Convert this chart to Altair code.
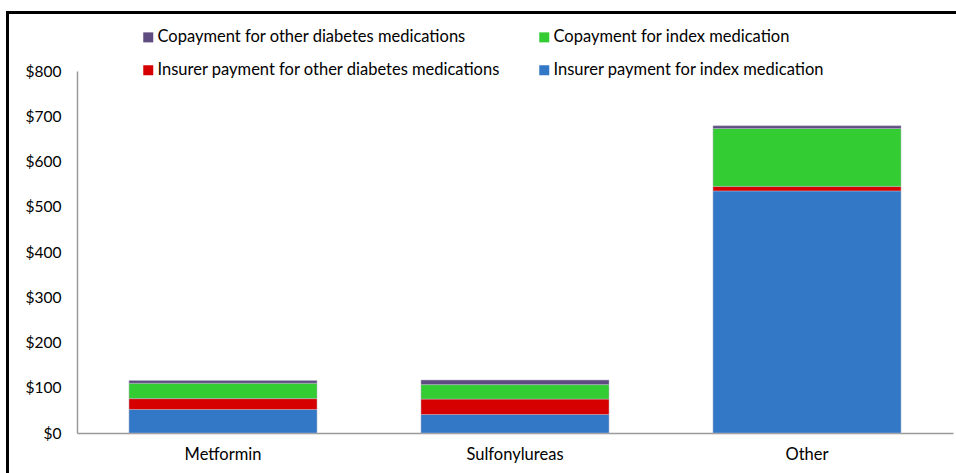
import altair as alt
import pandas as pd

# Average annual pharmacy spending by index medication class
categories = ["Metformin", "Sulfonylureas", "Other"]
insurer_index = [52, 41, 535]
insurer_other = [24, 34, 10]
copay_index = [34, 32, 128]
copay_other = [6, 10, 6]

# legend is laid out column by column: left column first, then right column
series_names = [
    "Copayment for other diabetes medications",
    "Insurer payment for other diabetes medications",
    "Copayment for index medication",
    "Insurer payment for index medication",
]
series_colors = ["#5E4B80", "#D60000", "#33CC33", "#3377C7"]
# stacking position: 0 = bottom of the bar
stack_rank = {
    "Insurer payment for index medication": 0,
    "Insurer payment for other diabetes medications": 1,
    "Copayment for index medication": 2,
    "Copayment for other diabetes medications": 3,
}
values_by_series = {
    "Insurer payment for index medication": insurer_index,
    "Insurer payment for other diabetes medications": insurer_other,
    "Copayment for index medication": copay_index,
    "Copayment for other diabetes medications": copay_other,
}

rows = []
for name, vals in values_by_series.items():
    for cat, v in zip(categories, vals):
        rows.append({"category": cat, "series": name, "amount": v, "rank": stack_rank[name]})
df = pd.DataFrame(rows)

FONT = "Lato"

bars = alt.Chart(df).mark_bar(stroke="#b8b8c8", strokeWidth=0.5).encode(
    x=alt.X(
        "category:N",
        sort=categories,
        title=None,
        scale=alt.Scale(paddingInner=0.356, paddingOuter=0.178),
        axis=alt.Axis(
            labelAngle=0,
            ticks=False,
            domainColor="#9a9a9a",
            domainWidth=1.5,
            labelPadding=13,
            labelFontSize=16.5,
            labelColor="#000000",
        ),
    ),
    y=alt.Y(
        "amount:Q",
        stack="zero",
        title=None,
        scale=alt.Scale(domain=[0, 800], nice=False),
        axis=alt.Axis(
            values=[0, 100, 200, 300, 400, 500, 600, 700, 800],
            labelExpr="'$' + datum.value",
            grid=False,
            ticks=False,
            domainColor="#9a9a9a",
            domainWidth=1.5,
            labelPadding=16,
            labelFontSize=15.5,
            labelColor="#000000",
        ),
    ),
    color=alt.Color(
        "series:N",
        scale=alt.Scale(domain=series_names, range=series_colors),
        legend=alt.Legend(
            title=None,
            orient="none",
            legendX=63,
            legendY=-42,
            columns=2,
            columnPadding=35,
            rowPadding=16,
            symbolType="square",
            symbolSize=100,
            symbolStrokeWidth=0,
            symbolOffset=0,
            labelOffset=1,
            labelFontSize=16.5,
            labelColor="#000000",
            labelLimit=400,
        ),
    ),
    order=alt.Order("rank:Q", sort="ascending"),
)

# outer frame drawn around the whole figure
frame = alt.Chart(pd.DataFrame({"k": [0]})).mark_rect(
    filled=False, stroke="#000000", strokeWidth=3
).encode(
    x=alt.value(-69.5),
    x2=alt.value(890),
    y=alt.value(-58.5),
    y2=alt.value(420),
)

chart = alt.layer(bars, frame).properties(
    width=876,
    height=362,
    padding={"left": 77, "top": 71, "right": 3, "bottom": 40},
    autosize=alt.AutoSizeParams(type="none"),
).configure(
    font=FONT,
).configure_view(
    stroke=None,
).configure_axis(
    labelFont=FONT,
).configure_legend(
    labelFont=FONT,
)

chart.save("out.html", embed_options={"renderer": "svg", "actions": False})
